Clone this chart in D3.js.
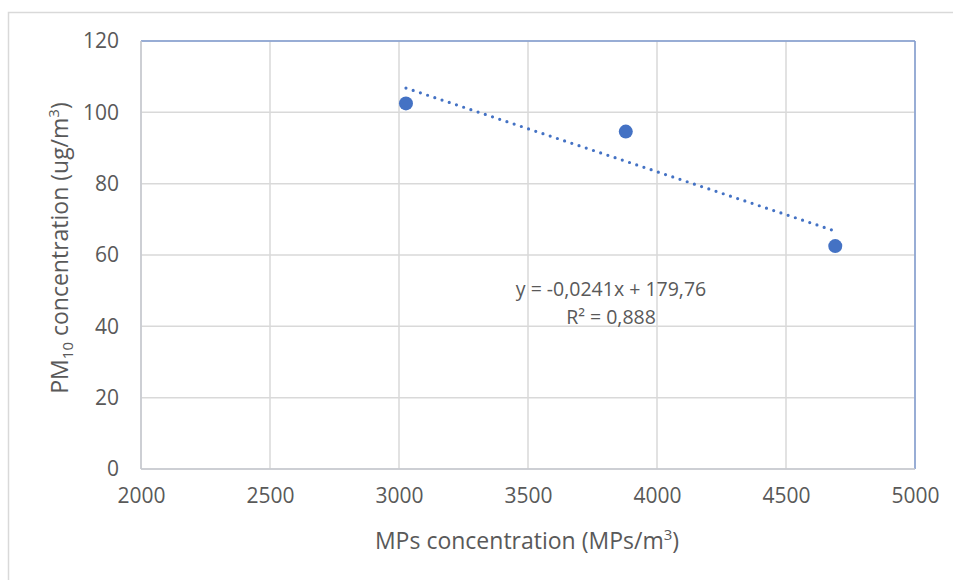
<!DOCTYPE html>
<html>
<head>
<meta charset="utf-8">
<script src="https://cdn.jsdelivr.net/npm/d3@7"></script>
<style>
body{margin:0;background:#fff}
svg text{font-family:"Open Sans",sans-serif;fill:#595959}
</style>
</head>
<body>
<div id="chart"></div>
<script>
// data
var mpsConc = [3027, 3879, 4691]
var pm10Conc = [102.5, 94.6, 62.5]
var xTicks = [2000, 2500, 3000, 3500, 4000, 4500, 5000]
var yTicks = [0, 20, 40, 60, 80, 100, 120]
var slope = -0.0241, intercept = 179.76
var eqText = 'y = -0,0241x + 179,76'
var r2Text = 'R² = 0,888'

var W = 953, H = 580
var marginL = 141, marginT = 41
var width = 774, height = 428
var blue = '#4472C4'

var svg = d3.select('#chart').append('svg')
    .attr('width', W)
    .attr('height', H)

// outer chart frame
svg.append('rect')
    .attr('x', 8.5).attr('y', 12.5)
    .attr('width', W + 20).attr('height', H + 20)
    .attr('fill', 'none')
    .attr('stroke', '#d9d9d9')
    .attr('stroke-width', 1.5)

var xscale = d3.scaleLinear().domain([2000, 5000]).range([0, width])
var yscale = d3.scaleLinear().domain([0, 120]).range([height, 0])

var g = svg.append('g').attr('transform', 'translate(' + marginL + ',' + marginT + ')')

// grid
g.append('g').selectAll('line').data(xTicks).enter().append('line')
    .attr('x1', function(d){return xscale(d)}).attr('x2', function(d){return xscale(d)})
    .attr('y1', 0).attr('y2', height)
    .attr('stroke', '#d9d9d9').attr('stroke-width', 1.5)
g.append('g').selectAll('line').data(yTicks).enter().append('line')
    .attr('x1', 0).attr('x2', width)
    .attr('y1', function(d){return yscale(d)}).attr('y2', function(d){return yscale(d)})
    .attr('stroke', '#d9d9d9').attr('stroke-width', 1.5)

// plot area border: top/right blue, left/bottom gray
g.append('line').attr('x1', 0).attr('x2', width).attr('y1', 0).attr('y2', 0)
    .attr('stroke', '#7f9bd0').attr('stroke-width', 1.5)
g.append('line').attr('x1', width).attr('x2', width).attr('y1', 0).attr('y2', height)
    .attr('stroke', '#7f9bd0').attr('stroke-width', 1.5)
g.append('line').attr('x1', 0).attr('x2', 0).attr('y1', 0).attr('y2', height)
    .attr('stroke', '#c6c9cf').attr('stroke-width', 1.5)
g.append('line').attr('x1', 0).attr('x2', width).attr('y1', height).attr('y2', height)
    .attr('stroke', '#c6c9cf').attr('stroke-width', 1.5)

// axes (labels only)
var xaxis = g.append('g')
    .attr('transform', 'translate(0,' + height + ')')
    .call(d3.axisBottom(xscale).tickValues(xTicks).tickSize(0).tickPadding(19).tickFormat(d3.format('d')))
xaxis.select('.domain').remove()
xaxis.selectAll('text').style('font-size', '21px').attr('fill', '#595959')

var yaxis = g.append('g')
    .call(d3.axisLeft(yscale).tickValues(yTicks).tickSize(0).tickPadding(22).tickFormat(d3.format('d')))
yaxis.select('.domain').remove()
yaxis.selectAll('text').style('font-size', '21px').attr('fill', '#595959')

// trendline
var x0 = d3.min(mpsConc), x1 = d3.max(mpsConc)
g.append('line')
    .attr('x1', xscale(x0)).attr('y1', yscale(slope * x0 + intercept))
    .attr('x2', xscale(x1)).attr('y2', yscale(slope * x1 + intercept))
    .attr('stroke', blue)
    .attr('stroke-width', 3.2)
    .attr('stroke-linecap', 'round')
    .attr('stroke-dasharray', '0 7.6')

// points
g.selectAll('.dot').data(mpsConc).enter().append('circle')
    .attr('class', 'dot')
    .attr('cx', function(d){return xscale(d)})
    .attr('cy', function(d, i){return yscale(pm10Conc[i])})
    .attr('r', 7)
    .attr('fill', blue)

// equation label
g.append('text')
    .attr('x', 470).attr('y', 255)
    .attr('text-anchor', 'middle')
    .style('font-size', '19.5px')
    .text(eqText)
g.append('text')
    .attr('x', 470).attr('y', 283)
    .attr('text-anchor', 'middle')
    .style('font-size', '19.5px')
    .text(r2Text)

// axis titles
var xt = svg.append('text')
    .attr('x', 527).attr('y', 549)
    .attr('text-anchor', 'middle')
    .style('font-size', '23px')
xt.append('tspan').text('MPs concentration (MPs/m')
xt.append('tspan').attr('dy', -9).style('font-size', '15px').text('3')
xt.append('tspan').attr('dy', 9).text(')')

var yt = svg.append('text')
    .attr('transform', 'translate(68,248) rotate(-90)')
    .attr('text-anchor', 'middle')
    .style('font-size', '23px')
yt.append('tspan').text('PM')
yt.append('tspan').attr('dy', 5).style('font-size', '15px').text('10')
yt.append('tspan').attr('dy', -5).text(' concentration (ug/m')
yt.append('tspan').attr('dy', -9).style('font-size', '15px').text('3')
yt.append('tspan').attr('dy', 9).text(')')
</script>
</body>
</html>
